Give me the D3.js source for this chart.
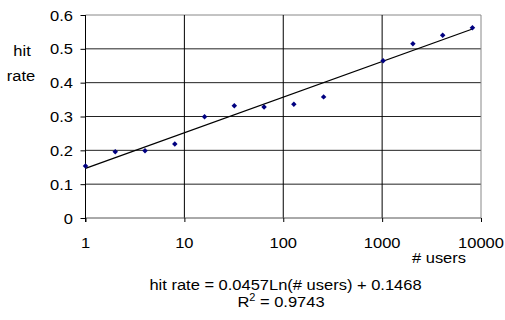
<!DOCTYPE html>
<html>
<head>
<meta charset="utf-8">
<script src="https://cdn.jsdelivr.net/npm/d3@7"></script>
<style>
  body { margin: 0; background: #fff; }
  text { font-family: "Liberation Sans", Arial, sans-serif; font-size: 15px; fill: #000; }
</style>
</head>
<body>
<svg></svg>
<script>

// ----- Data ----- //
var users = [1, 2, 4, 8, 16, 32, 64, 128, 256, 1024, 2048, 4096, 8192];
var hitRate = [0.154, 0.196, 0.199, 0.219, 0.299, 0.332, 0.328, 0.336, 0.358, 0.465, 0.515, 0.540, 0.562];
var xTicks = [1, 10, 100, 1000, 10000];
var yTicks = [0, 0.1, 0.2, 0.3, 0.4, 0.5, 0.6];
var fitSlope = 0.0457;
var fitIntercept = 0.1468;
var fitLabel = "hit rate = 0.0457Ln(# users) + 0.1468";
var r2Value = "0.9743";

var svgWidth = 505;
var svgHeight = 320;
var plot = {left: 85.5, right: 481, top: 15, bottom: 218};
var stretch = 1.1; // text in the original is a bit wide
var scale = {};

var svg = d3.select("svg")
  .attr('width', svgWidth)
  .attr('height', svgHeight);

setScale();
drawGrid();
drawAxis();
drawTrend();
drawPoints();
drawLabels();

// ==================== Helper functions ==================== //

function setScale() {
  scale.x = d3.scaleLog()
    .domain([1, 10000])
    .range([plot.left, plot.right]);

  scale.y = d3.scaleLinear()
    .domain([0, 0.6])
    .range([plot.bottom, plot.top]);
}

function drawGrid() {
  // horizontal lines
  svg.append('g').selectAll('line')
    .data(yTicks.slice(1))
    .enter()
    .append('line')
    .attr('x1', plot.left)
    .attr('x2', plot.right)
    .attr('y1', function(d) { return scale.y(d); })
    .attr('y2', function(d) { return scale.y(d); })
    .attr('stroke', function(d) { return d === 0.6 ? '#888' : '#222'; })
    .attr('stroke-width', 1);

  // vertical lines
  svg.append('g').selectAll('line')
    .data(xTicks.slice(1))
    .enter()
    .append('line')
    .attr('x1', function(d) { return scale.x(d); })
    .attr('x2', function(d) { return scale.x(d); })
    .attr('y1', plot.top)
    .attr('y2', plot.bottom)
    .attr('stroke', function(d) { return d === 10000 ? '#888' : '#000'; })
    .attr('stroke-width', 1);
}

function drawAxis() {
  var xAxis = svg.append('g')
    .attr('transform', translate(0, plot.bottom))
    .call(d3.axisBottom(scale.x).tickValues(xTicks).tickSize(4).tickFormat(''));
  xAxis.select('.domain').attr('d', 'M' + plot.left + ',0H' + plot.right).attr('stroke', '#555');
  xAxis.selectAll('.tick line').attr('stroke', '#000');

  var yAxis = svg.append('g')
    .attr('transform', translate(plot.left, 0))
    .call(d3.axisLeft(scale.y).tickValues(yTicks).tickSize(5).tickFormat(''));
  yAxis.select('.domain').attr('d', 'M0,' + plot.top + 'V' + (plot.bottom + 4)).attr('stroke', '#000');
  yAxis.selectAll('.tick line').attr('stroke', '#000');

  // tick labels
  svg.append('g').selectAll('text')
    .data(yTicks)
    .enter()
    .append('text')
    .attr('transform', function(d) { return translate(73, scale.y(d) + 5.5) + ' scale(' + stretch + ',1)'; })
    .attr('text-anchor', 'end')
    .text(function(d) { return d3.format('~g')(d); });

  svg.append('g').selectAll('text')
    .data(xTicks)
    .enter()
    .append('text')
    .attr('transform', function(d) { return translate(scale.x(d), 248) + ' scale(' + stretch + ',1)'; })
    .attr('text-anchor', 'middle')
    .text(function(d) { return d; });
}

function drawTrend() {
  var ext = d3.extent(users);
  var line = d3.line()
    .x(function(d) { return scale.x(d); })
    .y(function(d) { return scale.y(fitSlope * Math.log(d) + fitIntercept); });

  svg.append('path')
    .datum(ext)
    .attr('d', line)
    .attr('fill', 'none')
    .attr('stroke', '#000')
    .attr('stroke-width', 1.3);
}

function drawPoints() {
  // square turned 45 degrees gives the even diamond of the original
  var marker = d3.symbol().type(d3.symbolSquare).size(15);
  svg.append('g').selectAll('path')
    .data(users)
    .enter()
    .append('path')
    .attr('transform', function(d, i) { return translate(scale.x(d), scale.y(hitRate[i])) + ' rotate(45)'; })
    .attr('d', marker)
    .style('fill', '#000080');
}

function drawLabels() {
  addText('hit', 22, 56, 'middle');
  addText('rate', 21, 80.5, 'middle');
  addText('# users', 439, 263, 'middle');
  addText(fitLabel, 285.5, 290, 'middle');

  var r2 = svg.append('text')
    .attr('transform', translate(281, 307) + ' scale(' + stretch + ',1)')
    .attr('text-anchor', 'middle');
  r2.append('tspan').text('R');
  r2.append('tspan').attr('dy', -6).style('font-size', '10px').text('2');
  r2.append('tspan').attr('dy', 6).text(' = ' + r2Value);
}

function addText(str, x, y, anchor) {
  return svg.append('text')
    .attr('transform', translate(x, y) + ' scale(' + stretch + ',1)')
    .attr('text-anchor', anchor)
    .text(str);
}

function translate(x, y) {
  return 'translate(' + x + ',' + y + ')';
}

</script>
</body>
</html>
